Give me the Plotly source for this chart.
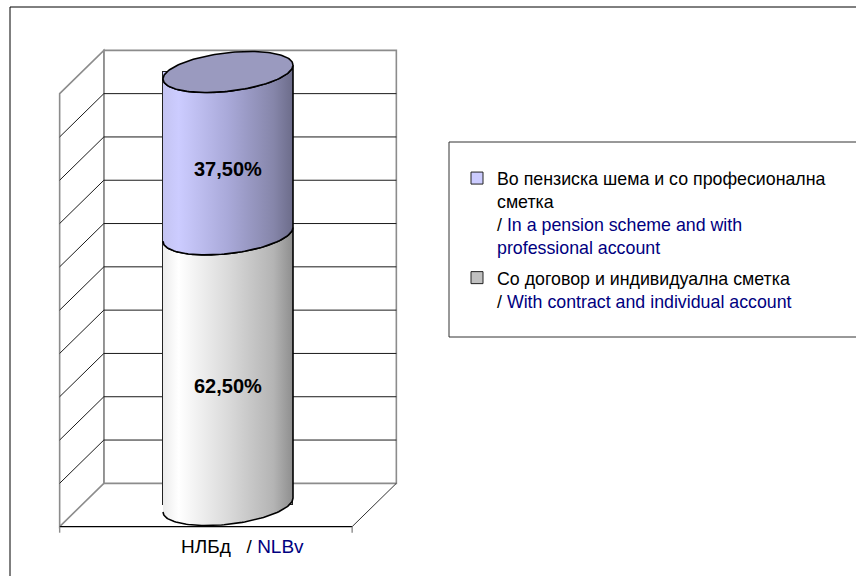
import numpy as np
import plotly.graph_objects as go

# ---------------- data ----------------
categories = ["НЛБд"]
categories_en = ["NLBv"]
series_mk = ["Со договор и индивидуална сметка",
             "Во пензиска шема и со професионална<br>сметка"]
series_en = ["With contract and individual account",
             "In a pension scheme and with<br>professional account"]
individual_account = [62.5]      # % (bottom segment)
professional_account = [37.5]    # % (top segment)
value_ticks = [0, 10, 20, 30, 40, 50, 60, 70, 80, 90, 100]

# ---------------- geometry / style ----------------
W, H = 856, 576
K = 4.33                 # px per percent
Y_MIN = -16.4
Y_MAX = Y_MIN + H / K
XU = 130.0               # px per x unit (bar width = 1)
X_MIN = -228.0 / XU
X_MAX = X_MIN + W / XU
HALF_CAT = 1.125         # half width of the category slot
DX, DY = 0.17, 5.0       # oblique depth offset (half depth)
BAR_W = 1.0
ELL_B, ELL_T = 4.47, 1.6  # ellipse vertical semi-axis and tilt

FONT = "Liberation Sans, Arial, sans-serif"
NAVY = "#000080"
WALL = "#8c8c8c"
GRID = "#1a1a1a"

seg_colors = {
    "gray": dict(swatch="#c0c0c0",
                 scale=[[0, "#ececec"], [0.12, "#ffffff"], [0.5, "#dadada"],
                        [0.85, "#b4b4b4"], [1, "#8e8e8e"]]),
    "purple": dict(swatch="#ccccff",
                   scale=[[0, "#c4c4f2"], [0.12, "#ccccff"], [0.5, "#a9a9d9"],
                          [0.85, "#8686aa"], [1, "#6c6c8a"]]),
}


def legend_name(mk, en):
    en_lines = en.split("<br>")
    en_html = "<br>".join(f"<span style='color:{NAVY}'>{l}</span>" for l in en_lines)
    return f"{mk}<br>/ " + en_html


def arc(v, th, cx=0.0):
    x = cx + 0.5 * BAR_W * np.cos(th)
    y = v + ELL_B * np.sin(th) + ELL_T * np.cos(th)
    return x, y


fig = go.Figure()

# ----- stacked bars (data) -----
cx = 0.0
fig.add_trace(go.Bar(x=[cx], y=individual_account, width=BAR_W,
                     name=legend_name(series_mk[0], series_en[0]),
                     legendgroup="g0", legendrank=2,
                     marker=dict(color=seg_colors["gray"]["swatch"],
                                 line=dict(color="#222222", width=1)),
                     hoverinfo="skip"))
fig.add_trace(go.Bar(x=[cx], y=professional_account, width=BAR_W,
                     name=legend_name(series_mk[1], series_en[1]),
                     legendgroup="g1", legendrank=1,
                     marker=dict(color=seg_colors["purple"]["swatch"],
                                 line=dict(color="#222222", width=1)),
                     hoverinfo="skip"))

# ----- cylinder rendering derived from the data -----
front = np.linspace(np.pi, 2 * np.pi, 80)
full = np.linspace(0, 2 * np.pi, 160)
bounds = [0.0, individual_account[0], individual_account[0] + professional_account[0]]
for (lo, hi), key in zip([(bounds[0], bounds[1]), (bounds[1], bounds[2])], ["gray", "purple"]):
    x1, y1 = arc(lo, front, cx)
    x2, y2 = arc(hi, front[::-1], cx)
    fig.add_trace(go.Scatter(x=np.concatenate([x1, x2]), y=np.concatenate([y1, y2]),
                             mode="lines", fill="toself",
                             fillgradient=dict(type="horizontal",
                                               colorscale=seg_colors[key]["scale"]),
                             line=dict(color="black", width=1.6),
                             showlegend=False, hoverinfo="skip"))
xt, yt = arc(bounds[2], full, cx)
fig.add_trace(go.Scatter(x=xt, y=yt, mode="lines", fill="toself", fillcolor="#9a9abf",
                         line=dict(color="black", width=1.6),
                         showlegend=False, hoverinfo="skip"))

# ----- walls, floor, gridlines -----
shapes = []
L, R = -HALF_CAT, HALF_CAT
# back wall
shapes.append(dict(type="rect", xref="x", yref="y", x0=L + DX, x1=R + DX,
                   y0=value_ticks[0] + DY, y1=value_ticks[-1] + DY,
                   line=dict(color=WALL, width=1.6), fillcolor="white", layer="below"))
# side wall
shapes.append(dict(type="path", xref="x", yref="y",
                   path=f"M{L - DX},{value_ticks[0] - DY} L{L + DX},{value_ticks[0] + DY} "
                        f"L{L + DX},{value_ticks[-1] + DY} L{L - DX},{value_ticks[-1] - DY} Z",
                   line=dict(color=WALL, width=1.6), fillcolor="white", layer="below"))
for v in value_ticks[1:-1]:
    shapes.append(dict(type="line", xref="x", yref="y", x0=L + DX, x1=R + DX,
                       y0=v + DY, y1=v + DY, line=dict(color=GRID, width=1), layer="below"))
    shapes.append(dict(type="line", xref="x", yref="y", x0=L - DX, x1=L + DX,
                       y0=v - DY, y1=v + DY, line=dict(color=GRID, width=1), layer="below"))
# floor edges
shapes.append(dict(type="line", xref="x", yref="y", x0=R - DX, x1=R + DX,
                   y0=-DY, y1=DY, line=dict(color="#333333", width=1), layer="below"))
shapes.append(dict(type="line", xref="x", yref="y", x0=L - DX, x1=R - DX,
                   y0=-DY, y1=-DY, line=dict(color="black", width=1.2), layer="below"))
for xe in (L - DX, R - DX):
    shapes.append(dict(type="line", xref="x", yref="y", x0=xe, x1=xe,
                       y0=-DY, y1=-DY - 1.4, line=dict(color=WALL, width=1.4), layer="below"))
# outer frame and legend box
shapes.append(dict(type="rect", xref="paper", yref="paper", x0=10 / W, x1=1.02,
                   y0=-0.02, y1=1 - 7 / H, line=dict(color="black", width=1)))
shapes.append(dict(type="rect", xref="paper", yref="paper", x0=449 / W, x1=1.02,
                   y0=1 - 337 / H, y1=1 - 142 / H, line=dict(color="#333333", width=1)))

# ----- annotations -----
annotations = []
base = 0.0
for v in [individual_account[0], professional_account[0]]:
    annotations.append(dict(x=cx, y=base + v / 2 - 0.75 * DY, xref="x", yref="y",
                            text="<b>" + f"{v:.2f}".replace(".", ",") + "%</b>",
                            showarrow=False, font=dict(family=FONT, size=20, color="black")))
    base += v
annotations.append(dict(x=cx + 0.11, y=-DY - 4.5, xref="x", yref="y",
                        text=f"{categories[0]}   / <span style='color:{NAVY}'>{categories_en[0]}</span>",
                        showarrow=False, font=dict(family=FONT, size=19, color="black")))

fig.update_layout(
    width=W, height=H, margin=dict(l=0, r=0, t=0, b=0),
    paper_bgcolor="white", plot_bgcolor="white",
    barmode="stack", bargap=0,
    xaxis=dict(range=[X_MIN, X_MAX], visible=False, fixedrange=True),
    yaxis=dict(range=[Y_MIN, Y_MAX], visible=False, fixedrange=True),
    shapes=shapes, annotations=annotations,
    showlegend=True,
    legend=dict(x=457 / W, y=1 - 160 / H, xanchor="left", yanchor="top",
                traceorder="grouped", valign="top", tracegroupgap=4,
                bgcolor="rgba(0,0,0,0)", borderwidth=0,
                font=dict(family=FONT, size=17.8, color="black")),
)

fig.write_html("out.html", config={"displayModeBar": False},
               post_script="document.body.style.margin='0';document.body.style.overflow='hidden';")
